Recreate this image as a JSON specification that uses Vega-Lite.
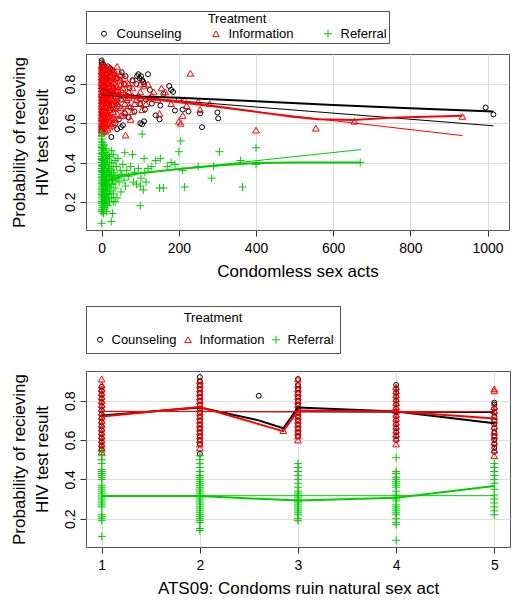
{
  "$schema": "https://vega.github.io/schema/vega-lite/v6.json",
  "padding": {"left": 9, "top": 10, "right": 12, "bottom": 5},
  "spacing": 25,
  "config": {
    "font": "Liberation Sans",
    "view": {"stroke": "#555555", "strokeWidth": 1},
    "axis": {
      "domain": false, "grid": true, "gridColor": "#dddddd", "gridWidth": 1,
      "tickColor": "#333333", "tickSize": 6, "labelFont": "Liberation Sans", "labelFontSize": 14, "labelColor": "#000000",
      "titleFont": "Liberation Sans", "titleFontSize": 17, "titleFontWeight": "normal", "titleColor": "#000000"
    },
    "axisX": {"labelPadding": 5, "titlePadding": 8},
    "axisY": {"titlePadding": 12, "titleLineHeight": 23},
    "legend": {
      "titleFont": "Liberation Sans", "labelFont": "Liberation Sans", "titleFontSize": 13, "titleFontWeight": "normal",
      "labelFontSize": 13, "labelColor": "#000000", "titleColor": "#000000", "strokeColor": "#555555", "titleLimit": 600, "labelLimit": 400,
      "symbolStrokeWidth": 1, "titleAnchor": "middle", "direction": "horizontal", "orient": "top"
    }
  },
  "datasets": {
    "tp": [
      {"T":"Counseling","x":0,"y":0.92},{"T":"Counseling","x":0,"y":0.91},{"T":"Counseling","x":0,"y":0.9},{"T":"Counseling","x":0,"y":0.88},{"T":"Counseling","x":0,"y":0.85},{"T":"Counseling","x":0,"y":0.82},{"T":"Counseling","x":0,"y":0.78},{"T":"Counseling","x":0,"y":0.74},{"T":"Counseling","x":0,"y":0.7},{"T":"Counseling","x":0,"y":0.66},{"T":"Counseling","x":0,"y":0.62},{"T":"Counseling","x":0,"y":0.58},{"T":"Counseling","x":0,"y":0.56},
      {"T":"Counseling","x":1,"y":0.89},{"T":"Counseling","x":1,"y":0.8},{"T":"Counseling","x":1,"y":0.72},{"T":"Counseling","x":2,"y":0.87},{"T":"Counseling","x":2,"y":0.76},{"T":"Counseling","x":2,"y":0.65},{"T":"Counseling","x":3,"y":0.84},{"T":"Counseling","x":3,"y":0.69},{"T":"Counseling","x":4,"y":0.9},{"T":"Counseling","x":4,"y":0.61},{"T":"Counseling","x":5,"y":0.86},{"T":"Counseling","x":5,"y":0.71},{"T":"Counseling","x":6,"y":0.79},{"T":"Counseling","x":6,"y":0.64},{"T":"Counseling","x":7,"y":0.88},{"T":"Counseling","x":8,"y":0.82},{"T":"Counseling","x":8,"y":0.68},{"T":"Counseling","x":9,"y":0.75},{"T":"Counseling","x":10,"y":0.87},{"T":"Counseling","x":10,"y":0.6},{"T":"Counseling","x":11,"y":0.83},{"T":"Counseling","x":12,"y":0.77},{"T":"Counseling","x":12,"y":0.66},{"T":"Counseling","x":14,"y":0.85},{"T":"Counseling","x":15,"y":0.72},{"T":"Counseling","x":15,"y":0.63},{"T":"Counseling","x":16,"y":0.89},{"T":"Counseling","x":18,"y":0.8},{"T":"Counseling","x":20,"y":0.86},{"T":"Counseling","x":20,"y":0.69},{"T":"Counseling","x":22,"y":0.88},{"T":"Counseling","x":24,"y":0.74},{"T":"Counseling","x":25,"y":0.53},{"T":"Counseling","x":25,"y":0.82},{"T":"Counseling","x":28,"y":0.87},{"T":"Counseling","x":30,"y":0.78},{"T":"Counseling","x":30,"y":0.67},{"T":"Counseling","x":32,"y":0.85},{"T":"Counseling","x":35,"y":0.71},{"T":"Counseling","x":36,"y":0.6},{"T":"Counseling","x":40,"y":0.57},{"T":"Counseling","x":40,"y":0.83},{"T":"Counseling","x":42,"y":0.76},{"T":"Counseling","x":45,"y":0.62},{"T":"Counseling","x":48,"y":0.84},{"T":"Counseling","x":50,"y":0.58},{"T":"Counseling","x":50,"y":0.72},{"T":"Counseling","x":52,"y":0.86},{"T":"Counseling","x":55,"y":0.59},{"T":"Counseling","x":58,"y":0.8},{"T":"Counseling","x":60,"y":0.65},{"T":"Counseling","x":62,"y":0.84},{"T":"Counseling","x":65,"y":0.74},{"T":"Counseling","x":70,"y":0.63},{"T":"Counseling","x":72,"y":0.78},{"T":"Counseling","x":75,"y":0.68},{"T":"Counseling","x":80,"y":0.82},{"T":"Counseling","x":85,"y":0.66},{"T":"Counseling","x":90,"y":0.8},{"T":"Counseling","x":92,"y":0.84},{"T":"Counseling","x":95,"y":0.85},{"T":"Counseling","x":98,"y":0.83},{"T":"Counseling","x":100,"y":0.6},{"T":"Counseling","x":100,"y":0.7},{"T":"Counseling","x":102,"y":0.84},{"T":"Counseling","x":105,"y":0.595},{"T":"Counseling","x":105,"y":0.82},{"T":"Counseling","x":108,"y":0.81},{"T":"Counseling","x":110,"y":0.8},{"T":"Counseling","x":110,"y":0.61},{"T":"Counseling","x":112,"y":0.67},{"T":"Counseling","x":115,"y":0.72},{"T":"Counseling","x":120,"y":0.85},{"T":"Counseling","x":125,"y":0.77},{"T":"Counseling","x":130,"y":0.7},{"T":"Counseling","x":140,"y":0.64},{"T":"Counseling","x":150,"y":0.62},{"T":"Counseling","x":152,"y":0.69},{"T":"Counseling","x":160,"y":0.75},{"T":"Counseling","x":175,"y":0.79},{"T":"Counseling","x":180,"y":0.77},{"T":"Counseling","x":185,"y":0.76},{"T":"Counseling","x":190,"y":0.665},{"T":"Counseling","x":200,"y":0.72},{"T":"Counseling","x":210,"y":0.67},{"T":"Counseling","x":225,"y":0.66},{"T":"Counseling","x":255,"y":0.65},{"T":"Counseling","x":260,"y":0.58},{"T":"Counseling","x":300,"y":0.655},{"T":"Counseling","x":302,"y":0.625},{"T":"Counseling","x":995,"y":0.68},{"T":"Counseling","x":1015,"y":0.645},
      {"T":"Information","x":0,"y":0.55},{"T":"Information","x":0,"y":0.58},{"T":"Information","x":0,"y":0.61},{"T":"Information","x":0,"y":0.64},{"T":"Information","x":0,"y":0.67},{"T":"Information","x":0,"y":0.7},{"T":"Information","x":0,"y":0.73},{"T":"Information","x":0,"y":0.76},{"T":"Information","x":0,"y":0.79},{"T":"Information","x":0,"y":0.82},{"T":"Information","x":0,"y":0.85},{"T":"Information","x":0,"y":0.88},
      {"T":"Information","x":0,"y":0.565},{"T":"Information","x":0,"y":0.595},{"T":"Information","x":0,"y":0.625},{"T":"Information","x":0,"y":0.655},{"T":"Information","x":0,"y":0.685},{"T":"Information","x":0,"y":0.715},{"T":"Information","x":0,"y":0.745},{"T":"Information","x":0,"y":0.775},{"T":"Information","x":0,"y":0.805},{"T":"Information","x":0,"y":0.835},{"T":"Information","x":0,"y":0.865},{"T":"Information","x":0,"y":0.895},
      {"T":"Information","x":5,"y":0.56},{"T":"Information","x":5,"y":0.62},{"T":"Information","x":5,"y":0.65},{"T":"Information","x":5,"y":0.68},{"T":"Information","x":5,"y":0.73},{"T":"Information","x":5,"y":0.79},{"T":"Information","x":5,"y":0.85},{"T":"Information","x":5,"y":0.88},
      {"T":"Information","x":10,"y":0.56},{"T":"Information","x":10,"y":0.59},{"T":"Information","x":10,"y":0.66},{"T":"Information","x":10,"y":0.69},{"T":"Information","x":10,"y":0.75},{"T":"Information","x":10,"y":0.77},{"T":"Information","x":10,"y":0.83},{"T":"Information","x":10,"y":0.89},
      {"T":"Information","x":15,"y":0.57},{"T":"Information","x":15,"y":0.6},{"T":"Information","x":15,"y":0.66},{"T":"Information","x":15,"y":0.68},{"T":"Information","x":15,"y":0.71},{"T":"Information","x":15,"y":0.77},{"T":"Information","x":15,"y":0.8},{"T":"Information","x":15,"y":0.86},{"T":"Information","x":15,"y":0.88},
      {"T":"Information","x":20,"y":0.58},{"T":"Information","x":20,"y":0.6},{"T":"Information","x":20,"y":0.64},{"T":"Information","x":20,"y":0.67},{"T":"Information","x":20,"y":0.72},{"T":"Information","x":20,"y":0.74},{"T":"Information","x":20,"y":0.79},{"T":"Information","x":20,"y":0.82},{"T":"Information","x":20,"y":0.88},
      {"T":"Information","x":25,"y":0.59},{"T":"Information","x":25,"y":0.63},{"T":"Information","x":25,"y":0.68},{"T":"Information","x":25,"y":0.7},{"T":"Information","x":25,"y":0.76},{"T":"Information","x":25,"y":0.79},{"T":"Information","x":25,"y":0.84},{"T":"Information","x":25,"y":0.87},
      {"T":"Information","x":30,"y":0.6},{"T":"Information","x":30,"y":0.63},{"T":"Information","x":30,"y":0.7},{"T":"Information","x":30,"y":0.72},{"T":"Information","x":30,"y":0.76},{"T":"Information","x":30,"y":0.81},{"T":"Information","x":30,"y":0.86},
      {"T":"Information","x":35,"y":0.62},{"T":"Information","x":35,"y":0.68},{"T":"Information","x":35,"y":0.74},{"T":"Information","x":35,"y":0.77},{"T":"Information","x":35,"y":0.84},{"T":"Information","x":35,"y":0.86},
      {"T":"Information","x":40,"y":0.65},{"T":"Information","x":40,"y":0.7},{"T":"Information","x":40,"y":0.73},{"T":"Information","x":40,"y":0.79},{"T":"Information","x":40,"y":0.83},
      {"T":"Information","x":50,"y":0.64},{"T":"Information","x":50,"y":0.68},{"T":"Information","x":50,"y":0.77},{"T":"Information","x":50,"y":0.8},{"T":"Information","x":50,"y":0.85},
      {"T":"Information","x":60,"y":0.66},{"T":"Information","x":60,"y":0.7},{"T":"Information","x":60,"y":0.75},{"T":"Information","x":60,"y":0.83},
      {"T":"Information","x":70,"y":0.69},{"T":"Information","x":70,"y":0.73},{"T":"Information","x":70,"y":0.8},{"T":"Information","x":80,"y":0.66},{"T":"Information","x":80,"y":0.74},{"T":"Information","x":80,"y":0.82},{"T":"Information","x":100,"y":0.7},{"T":"Information","x":100,"y":0.73},{"T":"Information","x":100,"y":0.8},
      {"T":"Information","x":1,"y":0.57},{"T":"Information","x":1,"y":0.63},{"T":"Information","x":1,"y":0.69},{"T":"Information","x":1,"y":0.75},{"T":"Information","x":1,"y":0.81},{"T":"Information","x":1,"y":0.87},{"T":"Information","x":2,"y":0.6},{"T":"Information","x":2,"y":0.66},{"T":"Information","x":2,"y":0.72},{"T":"Information","x":2,"y":0.78},{"T":"Information","x":2,"y":0.84},{"T":"Information","x":2,"y":0.9},{"T":"Information","x":3,"y":0.58},{"T":"Information","x":3,"y":0.65},{"T":"Information","x":3,"y":0.71},{"T":"Information","x":3,"y":0.77},{"T":"Information","x":3,"y":0.83},{"T":"Information","x":4,"y":0.62},{"T":"Information","x":4,"y":0.68},{"T":"Information","x":4,"y":0.74},{"T":"Information","x":4,"y":0.8},{"T":"Information","x":4,"y":0.86},{"T":"Information","x":5,"y":0.59},{"T":"Information","x":5,"y":0.7},{"T":"Information","x":5,"y":0.76},{"T":"Information","x":5,"y":0.82},{"T":"Information","x":6,"y":0.64},{"T":"Information","x":6,"y":0.73},{"T":"Information","x":6,"y":0.88},{"T":"Information","x":7,"y":0.61},{"T":"Information","x":7,"y":0.79},{"T":"Information","x":8,"y":0.67},{"T":"Information","x":8,"y":0.75},{"T":"Information","x":8,"y":0.84},{"T":"Information","x":10,"y":0.63},{"T":"Information","x":10,"y":0.72},{"T":"Information","x":10,"y":0.8},{"T":"Information","x":10,"y":0.86},{"T":"Information","x":12,"y":0.69},{"T":"Information","x":12,"y":0.77},{"T":"Information","x":14,"y":0.65},{"T":"Information","x":14,"y":0.83},{"T":"Information","x":15,"y":0.74},{"T":"Information","x":16,"y":0.7},{"T":"Information","x":18,"y":0.79},{"T":"Information","x":18,"y":0.62},{"T":"Information","x":20,"y":0.76},{"T":"Information","x":20,"y":0.85},{"T":"Information","x":22,"y":0.68},{"T":"Information","x":24,"y":0.81},{"T":"Information","x":25,"y":0.73},{"T":"Information","x":28,"y":0.78},{"T":"Information","x":30,"y":0.66},{"T":"Information","x":30,"y":0.84},{"T":"Information","x":32,"y":0.75},{"T":"Information","x":35,"y":0.8},{"T":"Information","x":38,"y":0.71},{"T":"Information","x":40,"y":0.89},{"T":"Information","x":42,"y":0.77},{"T":"Information","x":45,"y":0.69},{"T":"Information","x":48,"y":0.82},{"T":"Information","x":50,"y":0.74},{"T":"Information","x":55,"y":0.64},{"T":"Information","x":55,"y":0.78},{"T":"Information","x":60,"y":0.8},{"T":"Information","x":62,"y":0.54},{"T":"Information","x":65,"y":0.72},{"T":"Information","x":70,"y":0.76},{"T":"Information","x":75,"y":0.62},{"T":"Information","x":80,"y":0.78},{"T":"Information","x":85,"y":0.7},{"T":"Information","x":90,"y":0.72},{"T":"Information","x":95,"y":0.74},{"T":"Information","x":100,"y":0.76},{"T":"Information","x":105,"y":0.67},{"T":"Information","x":110,"y":0.79},{"T":"Information","x":115,"y":0.7},{"T":"Information","x":120,"y":0.8},{"T":"Information","x":125,"y":0.73},{"T":"Information","x":130,"y":0.74},{"T":"Information","x":135,"y":0.76},{"T":"Information","x":145,"y":0.72},{"T":"Information","x":150,"y":0.65},{"T":"Information","x":155,"y":0.78},{"T":"Information","x":165,"y":0.76},{"T":"Information","x":180,"y":0.7},{"T":"Information","x":200,"y":0.61},{"T":"Information","x":205,"y":0.6},{"T":"Information","x":210,"y":0.64},{"T":"Information","x":215,"y":0.72},{"T":"Information","x":220,"y":0.69},{"T":"Information","x":230,"y":0.855},{"T":"Information","x":250,"y":0.71},{"T":"Information","x":255,"y":0.67},{"T":"Information","x":280,"y":0.7},{"T":"Information","x":400,"y":0.565},{"T":"Information","x":555,"y":0.575},{"T":"Information","x":655,"y":0.61},{"T":"Information","x":935,"y":0.635},
      {"T":"Referral","x":0,"y":0.09},{"T":"Referral","x":0,"y":0.15},{"T":"Referral","x":0,"y":0.19},{"T":"Referral","x":0,"y":0.22},{"T":"Referral","x":0,"y":0.25},{"T":"Referral","x":0,"y":0.28},{"T":"Referral","x":0,"y":0.31},{"T":"Referral","x":0,"y":0.34},{"T":"Referral","x":0,"y":0.37},{"T":"Referral","x":0,"y":0.4},{"T":"Referral","x":0,"y":0.43},{"T":"Referral","x":0,"y":0.46},{"T":"Referral","x":0,"y":0.49},{"T":"Referral","x":0,"y":0.52},{"T":"Referral","x":0,"y":0.55},
      {"T":"Referral","x":0,"y":0.16},{"T":"Referral","x":0,"y":0.2},{"T":"Referral","x":0,"y":0.235},{"T":"Referral","x":0,"y":0.265},{"T":"Referral","x":0,"y":0.295},{"T":"Referral","x":0,"y":0.325},{"T":"Referral","x":0,"y":0.355},{"T":"Referral","x":0,"y":0.385},{"T":"Referral","x":0,"y":0.415},{"T":"Referral","x":0,"y":0.445},{"T":"Referral","x":0,"y":0.475},{"T":"Referral","x":0,"y":0.505},{"T":"Referral","x":0,"y":0.535},
      {"T":"Referral","x":3,"y":0.15},{"T":"Referral","x":3,"y":0.17},{"T":"Referral","x":3,"y":0.29},{"T":"Referral","x":3,"y":0.35},{"T":"Referral","x":3,"y":0.41},{"T":"Referral","x":3,"y":0.47},{"T":"Referral","x":3,"y":0.5},
      {"T":"Referral","x":6,"y":0.16},{"T":"Referral","x":6,"y":0.23},{"T":"Referral","x":6,"y":0.31},{"T":"Referral","x":6,"y":0.37},{"T":"Referral","x":6,"y":0.43},{"T":"Referral","x":6,"y":0.49},
      {"T":"Referral","x":9,"y":0.19},{"T":"Referral","x":9,"y":0.22},{"T":"Referral","x":9,"y":0.29},{"T":"Referral","x":9,"y":0.33},{"T":"Referral","x":9,"y":0.39},{"T":"Referral","x":9,"y":0.45},
      {"T":"Referral","x":12,"y":0.15},{"T":"Referral","x":12,"y":0.21},{"T":"Referral","x":12,"y":0.28},{"T":"Referral","x":12,"y":0.31},{"T":"Referral","x":12,"y":0.34},{"T":"Referral","x":12,"y":0.42},{"T":"Referral","x":12,"y":0.47},
      {"T":"Referral","x":16,"y":0.18},{"T":"Referral","x":16,"y":0.24},{"T":"Referral","x":16,"y":0.28},{"T":"Referral","x":16,"y":0.35},{"T":"Referral","x":16,"y":0.4},{"T":"Referral","x":16,"y":0.44},
      {"T":"Referral","x":20,"y":0.2},{"T":"Referral","x":20,"y":0.25},{"T":"Referral","x":20,"y":0.33},{"T":"Referral","x":20,"y":0.36},{"T":"Referral","x":20,"y":0.43},
      {"T":"Referral","x":25,"y":0.22},{"T":"Referral","x":25,"y":0.29},{"T":"Referral","x":25,"y":0.33},{"T":"Referral","x":25,"y":0.4},{"T":"Referral","x":25,"y":0.46},
      {"T":"Referral","x":30,"y":0.24},{"T":"Referral","x":30,"y":0.29},{"T":"Referral","x":30,"y":0.34},{"T":"Referral","x":30,"y":0.38},{"T":"Referral","x":35,"y":0.2},{"T":"Referral","x":35,"y":0.31},{"T":"Referral","x":35,"y":0.41},
      {"T":"Referral","x":1,"y":0.18},{"T":"Referral","x":1,"y":0.24},{"T":"Referral","x":1,"y":0.3},{"T":"Referral","x":1,"y":0.36},{"T":"Referral","x":1,"y":0.42},{"T":"Referral","x":1,"y":0.48},{"T":"Referral","x":2,"y":0.16},{"T":"Referral","x":2,"y":0.21},{"T":"Referral","x":2,"y":0.27},{"T":"Referral","x":2,"y":0.33},{"T":"Referral","x":2,"y":0.39},{"T":"Referral","x":2,"y":0.45},{"T":"Referral","x":3,"y":0.2},{"T":"Referral","x":3,"y":0.26},{"T":"Referral","x":3,"y":0.32},{"T":"Referral","x":3,"y":0.38},{"T":"Referral","x":3,"y":0.44},{"T":"Referral","x":4,"y":0.23},{"T":"Referral","x":4,"y":0.29},{"T":"Referral","x":4,"y":0.35},{"T":"Referral","x":4,"y":0.41},{"T":"Referral","x":5,"y":0.14},{"T":"Referral","x":5,"y":0.25},{"T":"Referral","x":5,"y":0.31},{"T":"Referral","x":5,"y":0.37},{"T":"Referral","x":5,"y":0.47},{"T":"Referral","x":6,"y":0.2},{"T":"Referral","x":6,"y":0.28},{"T":"Referral","x":6,"y":0.34},{"T":"Referral","x":7,"y":0.24},{"T":"Referral","x":7,"y":0.4},{"T":"Referral","x":8,"y":0.18},{"T":"Referral","x":8,"y":0.3},{"T":"Referral","x":8,"y":0.36},{"T":"Referral","x":9,"y":0.26},{"T":"Referral","x":10,"y":0.21},{"T":"Referral","x":10,"y":0.33},{"T":"Referral","x":10,"y":0.43},{"T":"Referral","x":11,"y":0.28},{"T":"Referral","x":12,"y":0.24},{"T":"Referral","x":12,"y":0.38},{"T":"Referral","x":13,"y":0.31},{"T":"Referral","x":14,"y":0.19},{"T":"Referral","x":14,"y":0.35},{"T":"Referral","x":15,"y":0.27},{"T":"Referral","x":15,"y":0.42},{"T":"Referral","x":16,"y":0.32},{"T":"Referral","x":18,"y":0.22},{"T":"Referral","x":18,"y":0.37},{"T":"Referral","x":20,"y":0.29},{"T":"Referral","x":20,"y":0.4},{"T":"Referral","x":22,"y":0.33},{"T":"Referral","x":24,"y":0.26},{"T":"Referral","x":25,"y":0.1},{"T":"Referral","x":25,"y":0.36},{"T":"Referral","x":28,"y":0.14},{"T":"Referral","x":28,"y":0.31},{"T":"Referral","x":30,"y":0.2},{"T":"Referral","x":30,"y":0.44},{"T":"Referral","x":32,"y":0.35},{"T":"Referral","x":35,"y":0.27},{"T":"Referral","x":38,"y":0.38},{"T":"Referral","x":40,"y":0.22},{"T":"Referral","x":40,"y":0.32},{"T":"Referral","x":42,"y":0.42},{"T":"Referral","x":45,"y":0.3},{"T":"Referral","x":48,"y":0.36},{"T":"Referral","x":50,"y":0.25},{"T":"Referral","x":52,"y":0.34},{"T":"Referral","x":55,"y":0.39},{"T":"Referral","x":58,"y":0.31},{"T":"Referral","x":60,"y":0.45},{"T":"Referral","x":62,"y":0.28},{"T":"Referral","x":65,"y":0.36},{"T":"Referral","x":70,"y":0.33},{"T":"Referral","x":75,"y":0.38},{"T":"Referral","x":80,"y":0.44},{"T":"Referral","x":82,"y":0.3},{"T":"Referral","x":85,"y":0.35},{"T":"Referral","x":90,"y":0.29},{"T":"Referral","x":95,"y":0.37},{"T":"Referral","x":100,"y":0.28},{"T":"Referral","x":100,"y":0.18},{"T":"Referral","x":102,"y":0.32},{"T":"Referral","x":105,"y":0.545},{"T":"Referral","x":108,"y":0.26},{"T":"Referral","x":110,"y":0.42},{"T":"Referral","x":112,"y":0.35},{"T":"Referral","x":115,"y":0.3},{"T":"Referral","x":120,"y":0.37},{"T":"Referral","x":130,"y":0.38},{"T":"Referral","x":140,"y":0.41},{"T":"Referral","x":150,"y":0.27},{"T":"Referral","x":152,"y":0.42},{"T":"Referral","x":160,"y":0.27},{"T":"Referral","x":170,"y":0.38},{"T":"Referral","x":180,"y":0.4},{"T":"Referral","x":190,"y":0.39},{"T":"Referral","x":200,"y":0.455},{"T":"Referral","x":205,"y":0.51},{"T":"Referral","x":210,"y":0.36},{"T":"Referral","x":215,"y":0.275},{"T":"Referral","x":250,"y":0.38},{"T":"Referral","x":285,"y":0.32},{"T":"Referral","x":290,"y":0.38},{"T":"Referral","x":305,"y":0.455},{"T":"Referral","x":360,"y":0.41},{"T":"Referral","x":365,"y":0.275},{"T":"Referral","x":400,"y":0.475},{"T":"Referral","x":400,"y":0.39},{"T":"Referral","x":670,"y":0.4}
    ],
    "tl": [
      {"T":"Counseling","k":"s","x":0,"y":0.775},{"T":"Counseling","k":"s","x":25,"y":0.755},{"T":"Counseling","k":"s","x":50,"y":0.745},{"T":"Counseling","k":"s","x":100,"y":0.737},{"T":"Counseling","k":"s","x":200,"y":0.73},{"T":"Counseling","k":"s","x":400,"y":0.712},{"T":"Counseling","k":"s","x":600,"y":0.693},{"T":"Counseling","k":"s","x":800,"y":0.677},{"T":"Counseling","k":"s","x":1015,"y":0.66},
      {"T":"Counseling","k":"l","x":0,"y":0.745},{"T":"Counseling","k":"l","x":1015,"y":0.587},
      {"T":"Information","k":"s","x":0,"y":0.77},{"T":"Information","k":"s","x":50,"y":0.745},{"T":"Information","k":"s","x":100,"y":0.73},{"T":"Information","k":"s","x":200,"y":0.712},{"T":"Information","k":"s","x":300,"y":0.685},{"T":"Information","k":"s","x":400,"y":0.658},{"T":"Information","k":"s","x":500,"y":0.632},{"T":"Information","k":"s","x":560,"y":0.62},{"T":"Information","k":"s","x":650,"y":0.617},{"T":"Information","k":"s","x":770,"y":0.63},{"T":"Information","k":"s","x":935,"y":0.638},
      {"T":"Information","k":"l","x":0,"y":0.75},{"T":"Information","k":"l","x":935,"y":0.537},
      {"T":"Referral","k":"s","x":0,"y":0.28},{"T":"Referral","k":"s","x":20,"y":0.31},{"T":"Referral","k":"s","x":50,"y":0.33},{"T":"Referral","k":"s","x":100,"y":0.345},{"T":"Referral","k":"s","x":200,"y":0.367},{"T":"Referral","k":"s","x":300,"y":0.385},{"T":"Referral","k":"s","x":400,"y":0.398},{"T":"Referral","k":"s","x":500,"y":0.4},{"T":"Referral","k":"s","x":670,"y":0.4},
      {"T":"Referral","k":"l","x":0,"y":0.325},{"T":"Referral","k":"l","x":672,"y":0.466}
    ],
    "bp": [
      {"T":"Counseling","x":1,"y":0.55},{"T":"Counseling","x":1,"y":0.57},{"T":"Counseling","x":1,"y":0.59},{"T":"Counseling","x":1,"y":0.61},{"T":"Counseling","x":1,"y":0.63},{"T":"Counseling","x":1,"y":0.65},{"T":"Counseling","x":1,"y":0.67},{"T":"Counseling","x":1,"y":0.69},{"T":"Counseling","x":1,"y":0.71},{"T":"Counseling","x":1,"y":0.73},{"T":"Counseling","x":1,"y":0.75},{"T":"Counseling","x":1,"y":0.77},{"T":"Counseling","x":1,"y":0.79},{"T":"Counseling","x":1,"y":0.81},{"T":"Counseling","x":1,"y":0.83},{"T":"Counseling","x":1,"y":0.85},{"T":"Counseling","x":1,"y":0.87},
      {"T":"Counseling","x":2,"y":0.53},{"T":"Counseling","x":2,"y":0.58},{"T":"Counseling","x":2,"y":0.6},{"T":"Counseling","x":2,"y":0.62},{"T":"Counseling","x":2,"y":0.64},{"T":"Counseling","x":2,"y":0.66},{"T":"Counseling","x":2,"y":0.68},{"T":"Counseling","x":2,"y":0.7},{"T":"Counseling","x":2,"y":0.72},{"T":"Counseling","x":2,"y":0.74},{"T":"Counseling","x":2,"y":0.76},{"T":"Counseling","x":2,"y":0.78},{"T":"Counseling","x":2,"y":0.8},{"T":"Counseling","x":2,"y":0.82},{"T":"Counseling","x":2,"y":0.84},{"T":"Counseling","x":2,"y":0.86},{"T":"Counseling","x":2,"y":0.88},{"T":"Counseling","x":2,"y":0.9},{"T":"Counseling","x":2,"y":0.92},
      {"T":"Counseling","x":2.6,"y":0.825},
      {"T":"Counseling","x":3,"y":0.62},{"T":"Counseling","x":3,"y":0.64},{"T":"Counseling","x":3,"y":0.66},{"T":"Counseling","x":3,"y":0.68},{"T":"Counseling","x":3,"y":0.7},{"T":"Counseling","x":3,"y":0.72},{"T":"Counseling","x":3,"y":0.74},{"T":"Counseling","x":3,"y":0.76},{"T":"Counseling","x":3,"y":0.78},{"T":"Counseling","x":3,"y":0.8},{"T":"Counseling","x":3,"y":0.82},{"T":"Counseling","x":3,"y":0.84},{"T":"Counseling","x":3,"y":0.86},{"T":"Counseling","x":3,"y":0.88},{"T":"Counseling","x":3,"y":0.91},
      {"T":"Counseling","x":4,"y":0.6},{"T":"Counseling","x":4,"y":0.62},{"T":"Counseling","x":4,"y":0.64},{"T":"Counseling","x":4,"y":0.66},{"T":"Counseling","x":4,"y":0.68},{"T":"Counseling","x":4,"y":0.7},{"T":"Counseling","x":4,"y":0.72},{"T":"Counseling","x":4,"y":0.74},{"T":"Counseling","x":4,"y":0.76},{"T":"Counseling","x":4,"y":0.78},{"T":"Counseling","x":4,"y":0.8},{"T":"Counseling","x":4,"y":0.82},{"T":"Counseling","x":4,"y":0.84},{"T":"Counseling","x":4,"y":0.86},{"T":"Counseling","x":4,"y":0.88},
      {"T":"Counseling","x":5,"y":0.54},{"T":"Counseling","x":5,"y":0.56},{"T":"Counseling","x":5,"y":0.58},{"T":"Counseling","x":5,"y":0.6},{"T":"Counseling","x":5,"y":0.62},{"T":"Counseling","x":5,"y":0.64},{"T":"Counseling","x":5,"y":0.66},{"T":"Counseling","x":5,"y":0.68},{"T":"Counseling","x":5,"y":0.7},{"T":"Counseling","x":5,"y":0.72},{"T":"Counseling","x":5,"y":0.74},{"T":"Counseling","x":5,"y":0.76},{"T":"Counseling","x":5,"y":0.78},{"T":"Counseling","x":5,"y":0.79},
      {"T":"Information","x":1,"y":0.54},{"T":"Information","x":1,"y":0.56},{"T":"Information","x":1,"y":0.58},{"T":"Information","x":1,"y":0.6},{"T":"Information","x":1,"y":0.62},{"T":"Information","x":1,"y":0.64},{"T":"Information","x":1,"y":0.66},{"T":"Information","x":1,"y":0.68},{"T":"Information","x":1,"y":0.7},{"T":"Information","x":1,"y":0.72},{"T":"Information","x":1,"y":0.74},{"T":"Information","x":1,"y":0.76},{"T":"Information","x":1,"y":0.78},{"T":"Information","x":1,"y":0.8},{"T":"Information","x":1,"y":0.82},{"T":"Information","x":1,"y":0.84},{"T":"Information","x":1,"y":0.86},{"T":"Information","x":1,"y":0.88},{"T":"Information","x":1,"y":0.91},
      {"T":"Information","x":2,"y":0.56},{"T":"Information","x":2,"y":0.58},{"T":"Information","x":2,"y":0.6},{"T":"Information","x":2,"y":0.62},{"T":"Information","x":2,"y":0.64},{"T":"Information","x":2,"y":0.66},{"T":"Information","x":2,"y":0.68},{"T":"Information","x":2,"y":0.7},{"T":"Information","x":2,"y":0.72},{"T":"Information","x":2,"y":0.74},{"T":"Information","x":2,"y":0.76},{"T":"Information","x":2,"y":0.78},{"T":"Information","x":2,"y":0.8},{"T":"Information","x":2,"y":0.82},{"T":"Information","x":2,"y":0.84},{"T":"Information","x":2,"y":0.86},{"T":"Information","x":2,"y":0.88},{"T":"Information","x":2,"y":0.9},
      {"T":"Information","x":2.85,"y":0.648},
      {"T":"Information","x":3,"y":0.6},{"T":"Information","x":3,"y":0.62},{"T":"Information","x":3,"y":0.64},{"T":"Information","x":3,"y":0.66},{"T":"Information","x":3,"y":0.68},{"T":"Information","x":3,"y":0.7},{"T":"Information","x":3,"y":0.72},{"T":"Information","x":3,"y":0.74},{"T":"Information","x":3,"y":0.76},{"T":"Information","x":3,"y":0.78},{"T":"Information","x":3,"y":0.8},{"T":"Information","x":3,"y":0.82},{"T":"Information","x":3,"y":0.84},{"T":"Information","x":3,"y":0.86},{"T":"Information","x":3,"y":0.88},{"T":"Information","x":3,"y":0.91},
      {"T":"Information","x":4,"y":0.58},{"T":"Information","x":4,"y":0.61},{"T":"Information","x":4,"y":0.63},{"T":"Information","x":4,"y":0.65},{"T":"Information","x":4,"y":0.67},{"T":"Information","x":4,"y":0.69},{"T":"Information","x":4,"y":0.71},{"T":"Information","x":4,"y":0.73},{"T":"Information","x":4,"y":0.75},{"T":"Information","x":4,"y":0.77},{"T":"Information","x":4,"y":0.79},{"T":"Information","x":4,"y":0.81},{"T":"Information","x":4,"y":0.83},{"T":"Information","x":4,"y":0.85},{"T":"Information","x":4,"y":0.87},
      {"T":"Information","x":5,"y":0.52},{"T":"Information","x":5,"y":0.55},{"T":"Information","x":5,"y":0.59},{"T":"Information","x":5,"y":0.62},{"T":"Information","x":5,"y":0.64},{"T":"Information","x":5,"y":0.67},{"T":"Information","x":5,"y":0.7},{"T":"Information","x":5,"y":0.72},{"T":"Information","x":5,"y":0.75},{"T":"Information","x":5,"y":0.77},{"T":"Information","x":5,"y":0.85},{"T":"Information","x":5,"y":0.86},
      {"T":"Referral","x":1,"y":0.11},{"T":"Referral","x":1,"y":0.19},{"T":"Referral","x":1,"y":0.2},{"T":"Referral","x":1,"y":0.21},{"T":"Referral","x":1,"y":0.22},{"T":"Referral","x":1,"y":0.26},{"T":"Referral","x":1,"y":0.27},{"T":"Referral","x":1,"y":0.28},{"T":"Referral","x":1,"y":0.29},{"T":"Referral","x":1,"y":0.3},{"T":"Referral","x":1,"y":0.31},{"T":"Referral","x":1,"y":0.32},{"T":"Referral","x":1,"y":0.33},{"T":"Referral","x":1,"y":0.34},{"T":"Referral","x":1,"y":0.35},{"T":"Referral","x":1,"y":0.36},{"T":"Referral","x":1,"y":0.37},{"T":"Referral","x":1,"y":0.4},{"T":"Referral","x":1,"y":0.41},{"T":"Referral","x":1,"y":0.42},{"T":"Referral","x":1,"y":0.43},{"T":"Referral","x":1,"y":0.44},{"T":"Referral","x":1,"y":0.45},{"T":"Referral","x":1,"y":0.48},{"T":"Referral","x":1,"y":0.5},{"T":"Referral","x":1,"y":0.52},{"T":"Referral","x":1,"y":0.54},
      {"T":"Referral","x":2,"y":0.14},{"T":"Referral","x":2,"y":0.15},{"T":"Referral","x":2,"y":0.18},{"T":"Referral","x":2,"y":0.19},{"T":"Referral","x":2,"y":0.2},{"T":"Referral","x":2,"y":0.21},{"T":"Referral","x":2,"y":0.22},{"T":"Referral","x":2,"y":0.23},{"T":"Referral","x":2,"y":0.24},{"T":"Referral","x":2,"y":0.25},{"T":"Referral","x":2,"y":0.26},{"T":"Referral","x":2,"y":0.27},{"T":"Referral","x":2,"y":0.28},{"T":"Referral","x":2,"y":0.29},{"T":"Referral","x":2,"y":0.3},{"T":"Referral","x":2,"y":0.31},{"T":"Referral","x":2,"y":0.32},{"T":"Referral","x":2,"y":0.33},{"T":"Referral","x":2,"y":0.34},{"T":"Referral","x":2,"y":0.35},{"T":"Referral","x":2,"y":0.36},{"T":"Referral","x":2,"y":0.37},{"T":"Referral","x":2,"y":0.38},{"T":"Referral","x":2,"y":0.39},{"T":"Referral","x":2,"y":0.4},{"T":"Referral","x":2,"y":0.41},{"T":"Referral","x":2,"y":0.42},{"T":"Referral","x":2,"y":0.44},{"T":"Referral","x":2,"y":0.46},{"T":"Referral","x":2,"y":0.48},{"T":"Referral","x":2,"y":0.5},{"T":"Referral","x":2,"y":0.52},
      {"T":"Referral","x":3,"y":0.19},{"T":"Referral","x":3,"y":0.2},{"T":"Referral","x":3,"y":0.22},{"T":"Referral","x":3,"y":0.23},{"T":"Referral","x":3,"y":0.24},{"T":"Referral","x":3,"y":0.25},{"T":"Referral","x":3,"y":0.26},{"T":"Referral","x":3,"y":0.27},{"T":"Referral","x":3,"y":0.28},{"T":"Referral","x":3,"y":0.29},{"T":"Referral","x":3,"y":0.3},{"T":"Referral","x":3,"y":0.31},{"T":"Referral","x":3,"y":0.32},{"T":"Referral","x":3,"y":0.33},{"T":"Referral","x":3,"y":0.34},{"T":"Referral","x":3,"y":0.36},{"T":"Referral","x":3,"y":0.38},{"T":"Referral","x":3,"y":0.4},{"T":"Referral","x":3,"y":0.42},{"T":"Referral","x":3,"y":0.44},{"T":"Referral","x":3,"y":0.46},{"T":"Referral","x":3,"y":0.48},
      {"T":"Referral","x":4,"y":0.09},{"T":"Referral","x":4,"y":0.17},{"T":"Referral","x":4,"y":0.18},{"T":"Referral","x":4,"y":0.2},{"T":"Referral","x":4,"y":0.22},{"T":"Referral","x":4,"y":0.23},{"T":"Referral","x":4,"y":0.24},{"T":"Referral","x":4,"y":0.25},{"T":"Referral","x":4,"y":0.26},{"T":"Referral","x":4,"y":0.27},{"T":"Referral","x":4,"y":0.29},{"T":"Referral","x":4,"y":0.3},{"T":"Referral","x":4,"y":0.31},{"T":"Referral","x":4,"y":0.32},{"T":"Referral","x":4,"y":0.34},{"T":"Referral","x":4,"y":0.36},{"T":"Referral","x":4,"y":0.37},{"T":"Referral","x":4,"y":0.38},{"T":"Referral","x":4,"y":0.39},{"T":"Referral","x":4,"y":0.4},{"T":"Referral","x":4,"y":0.41},{"T":"Referral","x":4,"y":0.43},{"T":"Referral","x":4,"y":0.44},{"T":"Referral","x":4,"y":0.51},
      {"T":"Referral","x":5,"y":0.22},{"T":"Referral","x":5,"y":0.24},{"T":"Referral","x":5,"y":0.26},{"T":"Referral","x":5,"y":0.28},{"T":"Referral","x":5,"y":0.3},{"T":"Referral","x":5,"y":0.32},{"T":"Referral","x":5,"y":0.35},{"T":"Referral","x":5,"y":0.38},{"T":"Referral","x":5,"y":0.4},{"T":"Referral","x":5,"y":0.42},{"T":"Referral","x":5,"y":0.44},{"T":"Referral","x":5,"y":0.46},{"T":"Referral","x":5,"y":0.48}
    ],
    "bl": [
      {"T":"Counseling","k":"s","x":1,"y":0.725},{"T":"Counseling","k":"s","x":2,"y":0.765},{"T":"Counseling","k":"s","x":2.6,"y":0.7},{"T":"Counseling","k":"s","x":2.85,"y":0.66},{"T":"Counseling","k":"s","x":3,"y":0.765},{"T":"Counseling","k":"s","x":4,"y":0.745},{"T":"Counseling","k":"s","x":5,"y":0.685},
      {"T":"Counseling","k":"l","x":1,"y":0.746},{"T":"Counseling","k":"l","x":5,"y":0.74},
      {"T":"Information","k":"s","x":1,"y":0.72},{"T":"Information","k":"s","x":2,"y":0.768},{"T":"Information","k":"s","x":2.85,"y":0.645},{"T":"Information","k":"s","x":3,"y":0.75},{"T":"Information","k":"s","x":4,"y":0.745},{"T":"Information","k":"s","x":5,"y":0.71},
      {"T":"Information","k":"l","x":1,"y":0.745},{"T":"Information","k":"l","x":5,"y":0.745},
      {"T":"Referral","k":"s","x":1,"y":0.315},{"T":"Referral","k":"s","x":2,"y":0.315},{"T":"Referral","k":"s","x":3,"y":0.292},{"T":"Referral","k":"s","x":4,"y":0.306},{"T":"Referral","k":"s","x":5,"y":0.366},
      {"T":"Referral","k":"l","x":1,"y":0.317},{"T":"Referral","k":"l","x":5,"y":0.317}
    ]
  },
  "vconcat": [
    {
      "width": 423, "height": 176,
      "encoding": {
        "x": {"field": "x", "type": "quantitative", "scale": {"domain": [-40.6, 1055.6], "nice": false, "zero": false}, "axis": {"values": [0, 200, 400, 600, 800, 1000], "format": "d", "title": "Condomless sex acts"}},
        "y": {"field": "y", "type": "quantitative", "scale": {"domain": [0.056, 0.953], "nice": false, "zero": false}, "axis": {"values": [0.2, 0.4, 0.6, 0.8], "format": ".1f", "labelAngle": -90, "labelAlign": "center", "labelBaseline": "bottom", "labelPadding": 3, "title": ["Probability of recieving", "HIV test result"]}}
      },
      "layer": [
        {
          "data": {"name": "tp"},
          "mark": {"type": "point", "filled": false, "strokeWidth": 1, "opacity": 1},
          "encoding": {
            "color": {"field": "T", "type": "nominal", "scale": {"domain": ["Counseling", "Information", "Referral"], "range": ["#000000", "#ff0000", "#00cd00"]}, "legend": {"title": "Treatment", "labelExpr": "datum.label == 'Referral' ? 'Referral\u00a0\u00a0\u00a0\u00a0\u00a0\u00a0\u00a0\u00a0\u00a0\u00a0\u00a0\u00a0\u00a0\u00a0' : datum.label", "padding": 2, "columnPadding": 18, "symbolOffset": 9.5, "labelOffset": 6, "offset": 11, "titlePadding": 1}},
            "shape": {"field": "T", "type": "nominal", "scale": {"domain": ["Counseling", "Information", "Referral"], "range": ["circle", "triangle-up", "M-1,0L1,0M0,-1L0,1"]}},
            "size": {"field": "T", "type": "nominal", "scale": {"domain": ["Counseling", "Information", "Referral"], "range": [25, 64, 81]}}
          }
        },
        {
          "data": {"name": "tl"},
          "mark": {"type": "line"},
          "encoding": {
            "color": {"field": "T", "type": "nominal", "legend": null},
            "detail": {"field": "k", "type": "nominal"},
            "strokeWidth": {"field": "k", "type": "nominal", "scale": {"domain": ["s", "l"], "range": [2, 1]}, "legend": null}
          }
        }
      ]
    },
    {
      "width": 424, "height": 176,
      "encoding": {
        "x": {"field": "x", "type": "quantitative", "scale": {"domain": [0.84, 5.16], "nice": false, "zero": false}, "axis": {"values": [1, 2, 3, 4, 5], "format": "d", "title": "ATS09: Condoms ruin natural sex act"}},
        "y": {"field": "y", "type": "quantitative", "scale": {"domain": [0.056, 0.951], "nice": false, "zero": false}, "axis": {"values": [0.2, 0.4, 0.6, 0.8], "format": ".1f", "labelAngle": -90, "labelAlign": "center", "labelBaseline": "bottom", "labelPadding": 3, "title": ["Probability of recieving", "HIV test result"]}}
      },
      "layer": [
        {
          "data": {"name": "bp"},
          "mark": {"type": "point", "filled": false, "strokeWidth": 1, "opacity": 1},
          "encoding": {
            "color": {"field": "T", "type": "nominal", "scale": {"domain": ["Counseling", "Information", "Referral"], "range": ["#000000", "#ff0000", "#00cd00"]}, "legend": {"title": "Treatment", "labelExpr": "datum.label == 'Referral' ? 'Referral\u00a0\u00a0\u00a0\u00a0' : datum.label", "padding": 6, "columnPadding": 3, "symbolOffset": 1.5, "labelOffset": 5, "offset": 18, "titlePadding": 8}},
            "shape": {"field": "T", "type": "nominal", "scale": {"domain": ["Counseling", "Information", "Referral"], "range": ["circle", "triangle-up", "M-1,0L1,0M0,-1L0,1"]}},
            "size": {"field": "T", "type": "nominal", "scale": {"domain": ["Counseling", "Information", "Referral"], "range": [25, 64, 81]}}
          }
        },
        {
          "data": {"name": "bl"},
          "mark": {"type": "line"},
          "encoding": {
            "color": {"field": "T", "type": "nominal", "legend": null},
            "detail": {"field": "k", "type": "nominal"},
            "strokeWidth": {"field": "k", "type": "nominal", "scale": {"domain": ["s", "l"], "range": [2, 1]}, "legend": null}
          }
        }
      ]
    }
  ],
  "resolve": {
    "scale": {"color": "independent", "shape": "independent", "size": "independent", "strokeWidth": "independent"},
    "legend": {"color": "independent", "shape": "independent", "size": "independent"}
  }
}
